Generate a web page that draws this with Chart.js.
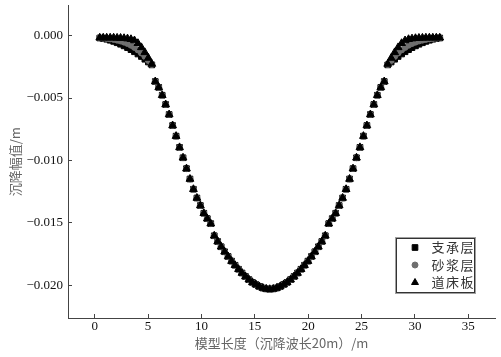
<!DOCTYPE html>
<html><head><meta charset="utf-8">
<script src="https://cdn.jsdelivr.net/npm/chart.js@4/dist/chart.umd.min.js"></script>
<style>html,body{margin:0;padding:0;background:#fff;}</style>
</head><body>
<canvas id="c" width="501" height="357"></canvas>
<script>
// ---- data ----
const xValues = [
 0.475,0.8,1.125,1.45,1.775,2.1,2.425,2.75,3.075,3.4,
 3.725,4.05,4.375,4.7,5.025,5.35,5.675,6.0,6.325,6.65,
 6.975,7.3,7.625,7.95,8.275,8.6,8.925,9.25,9.575,9.9,
 10.225,10.55,10.875,11.2,11.525,11.85,12.175,12.5,12.825,13.15,
 13.475,13.8,14.125,14.45,14.775,15.1,15.425,15.75,16.075,16.4,
 16.725,17.05,17.375,17.7,18.025,18.35,18.675,19.0,19.325,
 19.65,19.975,20.3,20.625,20.95,21.275,21.6,21.925,22.25,22.575,
 22.9,23.225,23.55,23.875,24.2,24.525,24.85,25.175,25.5,25.825,
 26.15,26.475,26.8,27.125,27.45,27.775,28.1,28.425,28.75,29.075,
 29.4,29.725,30.05,30.375,30.7,31.025,31.35,31.675,32.0,32.325
];
// 支承层
const supportLayer = [
 -0.00020,-0.00024,-0.00030,-0.00038,-0.00047,-0.00058,-0.00070,-0.00083,-0.00097,-0.00113,
 -0.00130,-0.00148,-0.00168,-0.00190,-0.00212,-0.00235,-0.00368,-0.00415,-0.00478,-0.00552,
 -0.00632,-0.00720,-0.00805,-0.00895,-0.00978,-0.01065,-0.01148,-0.01230,-0.01300,-0.01360,
 -0.01422,-0.01465,-0.01505,-0.01602,-0.01648,-0.01690,-0.01730,-0.01768,-0.01805,-0.01838,
 -0.01870,-0.01900,-0.01928,-0.01953,-0.01975,-0.01992,-0.02008,-0.02020,-0.02027,-0.02030,
 -0.02027,-0.02020,-0.02008,-0.01992,-0.01975,-0.01953,-0.01928,-0.01900,-0.01870,
 -0.01838,-0.01805,-0.01768,-0.01730,-0.01690,-0.01648,-0.01602,-0.01505,-0.01465,-0.01422,
 -0.01360,-0.01300,-0.01230,-0.01148,-0.01065,-0.00978,-0.00895,-0.00805,-0.00720,-0.00632,
 -0.00552,-0.00478,-0.00415,-0.00368,-0.00235,-0.00212,-0.00190,-0.00168,-0.00148,-0.00130,
 -0.00113,-0.00097,-0.00083,-0.00070,-0.00058,-0.00047,-0.00038,-0.00030,-0.00024,-0.00020
];
// 砂浆层
const mortarLayer = [
 -0.00019,-0.00021,-0.00024,-0.00027,-0.00031,-0.00037,-0.00044,-0.00053,-0.00064,-0.00078,
 -0.00095,-0.00115,-0.00140,-0.00168,-0.00200,-0.00232,-0.00368,-0.00415,-0.00478,-0.00552,
 -0.00632,-0.00720,-0.00805,-0.00895,-0.00978,-0.01065,-0.01148,-0.01230,-0.01300,-0.01360,
 -0.01422,-0.01465,-0.01505,-0.01602,-0.01648,-0.01690,-0.01730,-0.01768,-0.01805,-0.01838,
 -0.01870,-0.01900,-0.01928,-0.01953,-0.01975,-0.01992,-0.02008,-0.02020,-0.02027,-0.02030,
 -0.02027,-0.02020,-0.02008,-0.01992,-0.01975,-0.01953,-0.01928,-0.01900,-0.01870,
 -0.01838,-0.01805,-0.01768,-0.01730,-0.01690,-0.01648,-0.01602,-0.01505,-0.01465,-0.01422,
 -0.01360,-0.01300,-0.01230,-0.01148,-0.01065,-0.00978,-0.00895,-0.00805,-0.00720,-0.00632,
 -0.00552,-0.00478,-0.00415,-0.00368,-0.00232,-0.00200,-0.00168,-0.00140,-0.00115,-0.00095,
 -0.00078,-0.00064,-0.00053,-0.00044,-0.00037,-0.00031,-0.00027,-0.00024,-0.00021,-0.00019
];
// 道床板
const trackSlab = [
 -0.00018,-0.00018,-0.00018,-0.00018,-0.00018,-0.00019,-0.00020,-0.00022,-0.00025,-0.00030,
 -0.00040,-0.00062,-0.00095,-0.00135,-0.00180,-0.00228,-0.00368,-0.00415,-0.00478,-0.00552,
 -0.00632,-0.00720,-0.00805,-0.00895,-0.00978,-0.01065,-0.01148,-0.01230,-0.01300,-0.01360,
 -0.01422,-0.01465,-0.01505,-0.01602,-0.01648,-0.01690,-0.01730,-0.01768,-0.01805,-0.01838,
 -0.01870,-0.01900,-0.01928,-0.01953,-0.01975,-0.01992,-0.02008,-0.02020,-0.02027,-0.02030,
 -0.02027,-0.02020,-0.02008,-0.01992,-0.01975,-0.01953,-0.01928,-0.01900,-0.01870,
 -0.01838,-0.01805,-0.01768,-0.01730,-0.01690,-0.01648,-0.01602,-0.01505,-0.01465,-0.01422,
 -0.01360,-0.01300,-0.01230,-0.01148,-0.01065,-0.00978,-0.00895,-0.00805,-0.00720,-0.00632,
 -0.00552,-0.00478,-0.00415,-0.00368,-0.00228,-0.00180,-0.00135,-0.00095,-0.00062,-0.00040,
 -0.00030,-0.00025,-0.00022,-0.00020,-0.00019,-0.00018,-0.00018,-0.00018,-0.00018,-0.00018
];
const seriesNames = ['支承层', '砂浆层', '道床板'];
const xTickValues = [0, 5, 10, 15, 20, 25, 30, 35];
const yTickValues = [0, -0.005, -0.010, -0.015, -0.020];
const xTitle = '模型长度（沉降波长20m）/m';
const yTitle = '沉降幅值/m';

const toPoints = (ys) => xValues.map((x, i) => ({ x: x, y: ys[i] }));

const tickFont = { family: "'Liberation Serif', 'Times New Roman', serif", size: 13 };
const cjkFont = { family: "'Noto Sans CJK SC', sans-serif", size: 13 };

const insetLegend = {
  id: 'insetLegend',
  afterDatasetsDraw(chart) {
    const { ctx, chartArea: a } = chart;
    const w = 80, h = 56;
    const x0 = Math.round(a.right - 20 - w), y0 = Math.round(a.bottom - 25 - h);
    ctx.save();
    ctx.fillStyle = '#fff';
    ctx.fillRect(x0, y0, w, h);
    ctx.lineWidth = 1;
    ctx.strokeStyle = '#a0a0a0';
    ctx.strokeRect(x0 + 0.5, y0 + 0.5, w, h);
    ctx.strokeStyle = '#333';
    ctx.strokeRect(x0 + 1.5, y0 + 1.5, w - 2, h - 2);
    chart.data.datasets.forEach((ds, i) => {
      const cy = y0 + 10.5 + i * 17.5;
      ctx.fillStyle = ds.pointBackgroundColor;
      ctx.strokeStyle = ds.pointBorderColor;
      Chart.helpers.drawPoint(ctx, { pointStyle: ds.pointStyle, radius: ds.pointStyle === 'triangle' ? 4 : ds.pointRadius, rotation: 0, borderWidth: 1 }, x0 + 20, cy);
      ctx.fillStyle = '#333';
      ctx.font = "13px 'Noto Sans CJK SC', sans-serif";
      ctx.textBaseline = 'middle';
      ctx.textAlign = 'left';
      try { ctx.letterSpacing = '1.5px'; } catch (e) {}
      ctx.fillText(ds.label, x0 + 36.5, cy);
    });
    ctx.restore();
  }
};

new Chart(document.getElementById('c'), {
  type: 'scatter',
  data: {
    datasets: [
      { label: seriesNames[0], data: toPoints(supportLayer), order: 3,
        pointStyle: 'rect', pointRadius: 4, pointBackgroundColor: '#000', pointBorderColor: '#000', pointBorderWidth: 1 },
      { label: seriesNames[1], data: toPoints(mortarLayer), order: 2,
        pointStyle: 'circle', pointRadius: 3, pointBackgroundColor: '#6e6e6e', pointBorderColor: '#6e6e6e', pointBorderWidth: 1 },
      { label: seriesNames[2], data: toPoints(trackSlab), order: 1,
        pointStyle: 'triangle', pointRadius: 4.5, pointBackgroundColor: '#000', pointBorderColor: '#000', pointBorderWidth: 1 }
    ]
  },
  options: {
    responsive: false,
    animation: false,
    devicePixelRatio: 1,
    events: [],
    layout: { padding: { top: 3, right: 6, bottom: 0, left: 0 } },
    plugins: { legend: { display: false }, tooltip: { enabled: false } },
    scales: {
      x: {
        type: 'linear', min: -2.5, max: 37.5,
        border: { display: true, color: '#444', width: 1 },
        grid: { display: true, drawOnChartArea: false, drawTicks: true, tickLength: -4, color: '#444' },
        ticks: { font: tickFont, color: '#111', padding: 5, maxRotation: 0, autoSkip: false,
                 callback: (v) => String(Math.round(v)) },
        afterBuildTicks: (s) => { s.ticks = xTickValues.map((v) => ({ value: v })); },
        title: { display: true, text: xTitle, font: cjkFont, color: '#666', padding: { top: 0, bottom: 6 } },
        afterFit: (s) => { s.height = 39; s.paddingLeft = 0; s.paddingRight = 0; }
      },
      y: {
        type: 'linear', min: -0.0226, max: 0.0024,
        border: { display: true, color: '#444', width: 1 },
        grid: { display: true, drawOnChartArea: false, drawTicks: true, tickLength: -4, color: '#444' },
        ticks: { font: tickFont, color: '#111', padding: 9, autoSkip: false,
                 callback: (v) => Math.abs(v) < 1e-9 ? '0.000' : v.toFixed(3).replace('-', '\u2212') },
        afterBuildTicks: (s) => { s.ticks = yTickValues.map((v) => ({ value: v })); },
        title: { display: true, text: yTitle, font: cjkFont, color: '#666', padding: { top: 7, bottom: 0 } },
        afterFit: (s) => { s.width = 68; s.paddingTop = 0; s.paddingBottom = 0; }
      }
    }
  },
  plugins: [insetLegend]
});
</script>
</body></html>
